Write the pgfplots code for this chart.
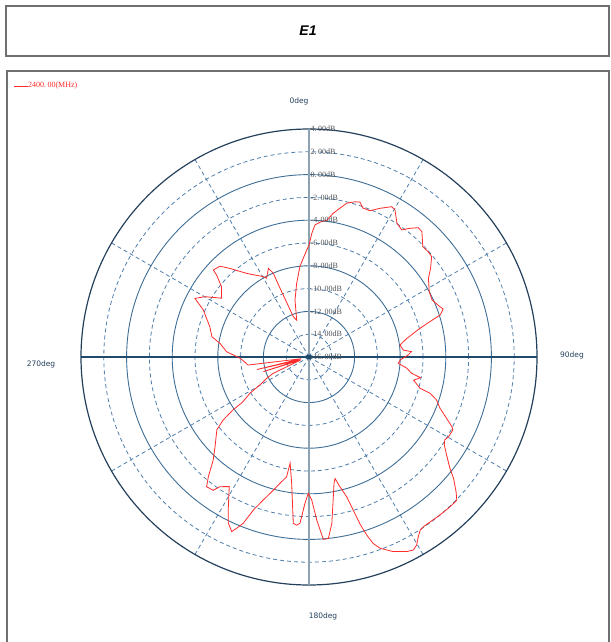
\documentclass[border=0pt]{standalone}
\usepackage{pgfplots}
\pgfplotsset{compat=1.18}
\usepackage{pgfplotstable}
\usepackage{fontspec}
\setmainfont{Liberation Serif}
\newfontfamily\degfont{DejaVu Sans}
\newfontfamily\titlefont{Liberation Sans}

\definecolor{outerring}{HTML}{24405C}
\definecolor{ring}{HTML}{3F6E96}
\definecolor{dashring}{HTML}{4F7EAB}
\definecolor{hline}{HTML}{1F4A6B}
\definecolor{vline}{HTML}{8DA2B3}
\definecolor{lbl}{HTML}{4A4F55}
\definecolor{trace}{HTML}{FF2A2A}
\definecolor{frame}{HTML}{707070}

% angle (deg, clockwise from top), gain (dB)
\pgfplotstableread{
ang dB
0 -6.2
1.3 -5.15
2.6 -4.4
5 -4.1
7.4 -3.9
9.6 -3.2
13.8 -2.1
16.5 -1.8
18.2 -1.7
19.9 -2.1
22.6 -2.1
25.5 -1.55
28.8 -0.95
30.3 -1.05
33.3 -1.95
36.1 -2.2
38.1 -1.65
40.2 -1.15
42 -1.2
45.9 -2.1
48.6 -2.05
50.7 -2.1
53.9 -2.8
56.6 -3.45
61.5 -4.0
65.1 -4.1
69 -3.7
70.3 -3.5
72.2 -3.9
73.7 -4.95
75.5 -5.95
79.2 -7.25
82.5 -7.95
85.8 -7.7
87 -7.0
88.8 -7.3
91.9 -8.0
94 -8.15
96.6 -7.35
99 -6.9
100.5 -6.05
102.5 -6.6
105.7 -5.9
106.7 -4.9
108.6 -4.2
111.4 -3.65
114 -2.8
116 -2.05
116.9 -1.85
119.8 -1.9
121.4 -2.05
123 -1.85
125.4 -1.2
128.3 -0.25
130 0.55
132.5 1.5
134.1 2.05
136.7 2.05
140.3 2.0
143.7 1.95
146 1.95
147.3 2.05
148.7 2.45
150.2 3.0
151.6 3.25
153.3 3.1
156.6 2.6
159.6 1.9
161 1.3
162 0.45
163 -0.65
164.9 -3.3
166.6 -4.3
167.9 -5.1
168.8 -4.7
170.4 -3.3
172.2 -1.25
173.9 0.0
175.5 0.05
177.3 -1.7
178.9 -3.45
180.3 -4.05
181.6 -3.15
183.1 -1.4
184.2 -1.2
185.4 -1.35
187.8 -4.8
190.1 -6.55
190.6 -5.3
192.9 -4.65
195 -3.9
197.7 -2.85
200 -1.7
201.6 -0.3
202.9 0.3
203.9 0.75
205.9 0.2
207.8 -0.8
211.6 -2.65
214.5 -2.2
215.7 -1.6
218.3 -1.5
220.1 -2.3
222.9 -3.65
226.3 -4.6
231.7 -5.7
233.7 -6.65
235.2 -7.9
235.8 -8.95
238.4 -9.9
240.9 -11.25
243.3 -11.85
245.5 -12.55
250 -15.2
252.2 -11.8
253.5 -15.0
256.5 -11.3
257.5 -15.3
262.5 -10.6
266 -10.3
269 -9.95
273.7 -8.75
278.7 -8.1
281.8 -7.3
287 -6.9
294 -5.85
297.2 -4.75
300.1 -5.45
303.9 -6.75
308.8 -6.15
311.6 -5.15
312.3 -4.65
315.6 -4.85
318.3 -5.6
323.3 -6.85
330.4 -7.9
331.7 -8.15
335.4 -7.45
336.9 -8.0
337.2 -9.6
337.8 -10.9
338.7 -12.2
341.5 -12.6
346.2 -10.85
350.5 -9.45
354.3 -8.0
358.8 -6.6
360 -6.2
}\patterndata

\begin{document}
\begin{tikzpicture}[x=1bp,y=1bp]
\path[use as bounding box] (0,0) rectangle (611,-642);
% title box
\draw[frame, line width=1.3bp] (6,-6) rectangle (609,-56);
\node[font=\titlefont\bfseries\itshape\fontsize{14bp}{16bp}\selectfont] at (308,-31) {E1};
% chart box
\draw[frame, line width=1.3bp] (7,-71) rectangle (609,-660);
% legend
\draw[trace, line width=0.8bp] (14,-86) -- (28,-86);
\node[anchor=west, inner sep=0pt, text=trace, font=\fontsize{8bp}{9bp}\selectfont] at (28,-86) {2400.\,00(MHz)};

\begin{axis}[
  at={(81bp,-585bp)}, anchor=south west,
  scale only axis, width=456bp, height=456bp,
  xmin=-20, xmax=20, ymin=-20, ymax=20,
  hide axis, clip=false,
]
  % dashed spokes every 30 deg
  \draw[dashring, line width=0.8bp, dash pattern=on 4bp off 3bp]
    (axis cs:0,0) -- (axis cs:10,17.32)
    (axis cs:0,0) -- (axis cs:17.32,10)
    (axis cs:0,0) -- (axis cs:17.32,-10)
    (axis cs:0,0) -- (axis cs:10,-17.32)
    (axis cs:0,0) -- (axis cs:-10,-17.32)
    (axis cs:0,0) -- (axis cs:-17.32,-10)
    (axis cs:0,0) -- (axis cs:-17.32,10)
    (axis cs:0,0) -- (axis cs:-10,17.32);
  % dashed rings
  \draw[dashring, line width=0.8bp, dash pattern=on 4bp off 3bp]
    (axis cs:0,0) circle[radius=2]
    (axis cs:0,0) circle[radius=6]
    (axis cs:0,0) circle[radius=10]
    (axis cs:0,0) circle[radius=14]
    (axis cs:0,0) circle[radius=18];
  % solid rings
  \draw[ring, line width=0.9bp]
    (axis cs:0,0) circle[radius=4]
    (axis cs:0,0) circle[radius=8]
    (axis cs:0,0) circle[radius=12]
    (axis cs:0,0) circle[radius=16];
  \draw[outerring, line width=1.2bp] (axis cs:0,0) circle[radius=20];
  % main axes
  \draw[hline, line width=1.1bp] (axis cs:-20,0) -- (axis cs:20,0);
  \draw[vline, line width=2.2bp] (axis cs:0,-20) -- (axis cs:0,20);

  \addplot[trace, line width=0.8bp, mark=none]
    table[x expr={(\thisrow{dB}+16)*sin(\thisrow{ang})},
          y expr={(\thisrow{dB}+16)*cos(\thisrow{ang})}] {\patterndata};

  \fill[hline] (axis cs:0,0) circle[radius=0.22];
  % ring labels
  \begin{scope}[every node/.style={anchor=west, inner sep=0pt, xshift=1.5bp,
      text=lbl, font=\fontsize{8bp}{9bp}\selectfont}]
    \node at (axis cs:0,20) {4.\,00dB};
    \node at (axis cs:0,18) {2.\,00dB};
    \node at (axis cs:0,16) {0.\,00dB};
    \node at (axis cs:0,14) {-2.\,00dB};
    \node at (axis cs:0,12) {-4.\,00dB};
    \node at (axis cs:0,10) {-6.\,00dB};
    \node at (axis cs:0,8) {-8.\,00dB};
    \node at (axis cs:0,6) {-10.\,00dB};
    \node at (axis cs:0,4) {-12.\,00dB};
    \node at (axis cs:0,2) {-14.\,00dB};
    \node at (axis cs:0,0) {-16.\,00dB};
  \end{scope}
\end{axis}
% angle labels
\begin{scope}[every node/.style={text=outerring, font=\degfont\fontsize{7.5bp}{9bp}\selectfont}]
  \node at (299,-101) {0deg};
  \node at (572,-355) {90deg};
  \node at (323,-616) {180deg};
  \node at (41,-364) {270deg};
\end{scope}
\end{tikzpicture}
\end{document}
